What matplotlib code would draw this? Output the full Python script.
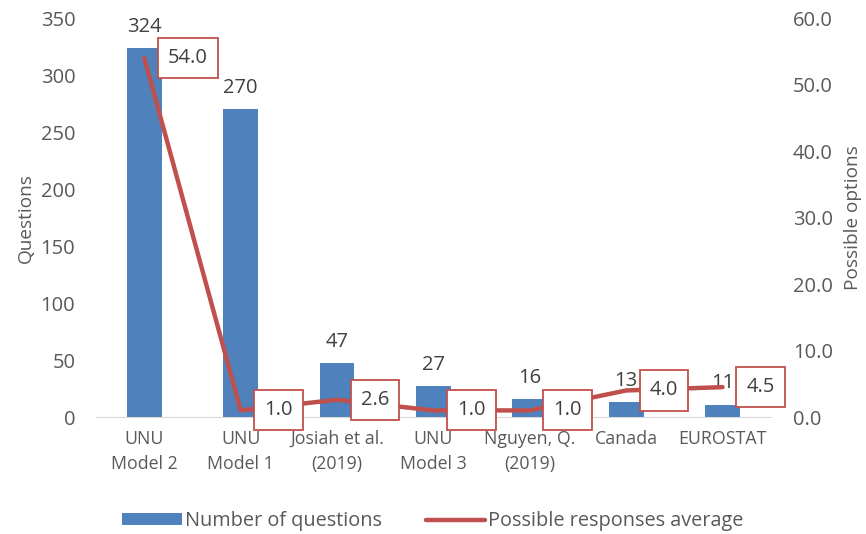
import matplotlib
matplotlib.use('Agg')
import matplotlib.pyplot as plt
import numpy as np

#---------------------------------------------------------
# data
#---------------------------------------------------------
categories = ['UNU\nModel 2', 'UNU\nModel 1', 'Josiah et al.\n(2019)', 'UNU\nModel 3',
              'Nguyen, Q.\n(2019)', 'Canada', 'EUROSTAT']
questions = [324, 270, 47, 27, 16, 13, 11]
responses_avg = [54.0, 1.0, 2.6, 1.0, 1.0, 4.0, 4.5]

BAR_COLOR = '#4F81BD'
LINE_COLOR = '#C0504D'
TEXT_COLOR = '#595959'
LABEL_COLOR = '#404040'

plt.rcParams['font.family'] = ['Open Sans', 'DejaVu Sans']

fig = plt.figure(figsize=(8.66, 5.34), dpi=100)
ax = fig.add_axes([0.111, 0.219, 0.779, 0.747])
ax2 = ax.twinx()

x = np.arange(len(categories))
bars = ax.bar(x, questions, width=0.36, color=BAR_COLOR, label='Number of questions', zorder=2)
line, = ax2.plot(x, responses_avg, color=LINE_COLOR, lw=3.2, solid_capstyle='round',
                 label='Possible responses average', zorder=3)

ax.set_xlim(-0.5, len(categories) - 0.5)
ax.set_ylim(0, 350)
ax2.set_ylim(0, 60)
ax.set_yticks(range(0, 351, 50))
ax2.set_yticks(np.arange(0, 61, 10))
ax2.set_yticklabels(['{0:.1f}'.format(v) for v in np.arange(0, 61, 10)])
ax.set_xticks(x)
ax.set_xticklabels(categories, linespacing=1.55)

for a in (ax, ax2):
    for s in a.spines.values():
        s.set_visible(False)
    a.tick_params(length=0, colors=TEXT_COLOR)
ax.spines['bottom'].set_visible(True)
ax.spines['bottom'].set_color('#D9D9D9')
ax.tick_params(axis='y', pad=15, labelsize=14.5)
ax2.tick_params(axis='y', pad=16, labelsize=14.5)
ax.tick_params(axis='x', pad=9, labelsize=12.8)

ax.set_ylabel('Questions', color=TEXT_COLOR, fontsize=13.7, labelpad=4)
ax2.set_ylabel('Possible options', color=TEXT_COLOR, fontsize=13.7, rotation=90, labelpad=8)

# bar value labels
for xi, v in zip(x, questions):
    ax.annotate(str(v), (xi, v), xytext=(0, 8), textcoords='offset points',
                ha='center', va='bottom', color=LABEL_COLOR, fontsize=14.5, zorder=4)

# boxed line labels
for xi, v in zip(x, responses_avg):
    ax2.annotate('{0:.1f}'.format(v), (xi, v), xytext=(17, 0), textcoords='offset points',
                 ha='left', va='center', color=LABEL_COLOR, fontsize=14.5, zorder=5,
                 bbox=dict(boxstyle='square,pad=0.5', fc='white', ec=LINE_COLOR, lw=1.3))

ax.set_zorder(ax2.get_zorder() - 1)
ax2.patch.set_visible(False)

leg = fig.legend([bars, line], ['Number of questions', 'Possible responses average'],
                 loc='lower center', bbox_to_anchor=(0.5, -0.028), ncol=2, frameon=False,
                 handlelength=3.0, handleheight=0.55, handletextpad=0.15, columnspacing=2.2,
                 fontsize=14.3)
for t in leg.get_texts():
    t.set_color(TEXT_COLOR)

plt.savefig('out.png', dpi=100)
